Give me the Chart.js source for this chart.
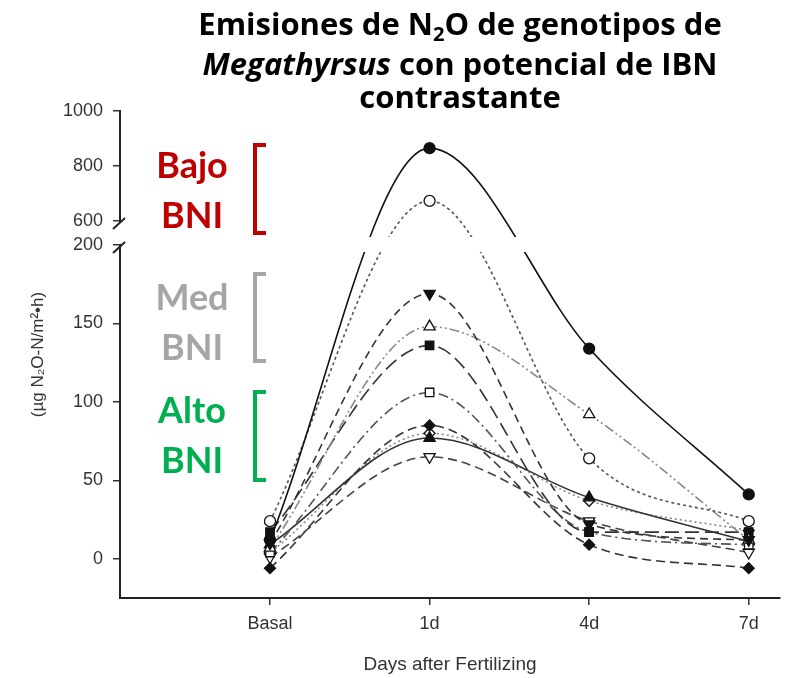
<!DOCTYPE html>
<html>
<head>
<meta charset="utf-8">
<script src="https://cdn.jsdelivr.net/npm/chart.js@4.4.1/dist/chart.umd.min.js"></script>
<style>
  body { margin: 0; background: #fff; }
  #wrap { position: relative; width: 794px; height: 678px; overflow: hidden; }
  canvas { position: absolute; left: 0; top: 0; }
  .title { position: absolute; left: 60px; width: 800px; text-align: center; white-space: nowrap;
           font: 700 31px 'Open Sans', sans-serif; line-height: 34px; color: #000; }
  .title sub { font-size: 0.65em; line-height: 0; vertical-align: -0.3em; }
  .tag { position: absolute; left: 132px; width: 120px; text-align: center;
         font: 700 36px Lato, sans-serif; line-height: 50px; }
  .bracket { position: absolute; left: 253px; width: 9px; border: 4px solid; border-right: none; }
</style>
</head>
<body>
<div id="wrap">
  <canvas id="chart" width="794" height="678"></canvas>

  <div class="title" style="top:6px">Emisiones de N<sub>2</sub>O de genotipos de</div>
  <div class="title" style="top:46px"><i>Megathyrsus</i> con potencial de IBN</div>
  <div class="title" style="top:79px">contrastante</div>

  <div class="tag" style="top:139px;color:#c00000">Bajo<br>BNI</div>
  <div class="bracket" style="top:143px;height:84px;border-color:#c00000"></div>
  <div class="tag" style="top:271px;color:#a6a6a6">Med<br>BNI</div>
  <div class="bracket" style="top:272px;height:83px;border-color:#a6a6a6"></div>
  <div class="tag" style="top:384px;color:#00b050">Alto<br>BNI</div>
  <div class="bracket" style="top:390px;height:84px;border-color:#00b050"></div>
</div>

<script>
const days = ['Basal', '1d', '4d', '7d'];
const yTickValues = [0, 50, 100, 150, 200, 600, 800, 1000];

// one value per sampling day, ug N2O-N/m2*h
const filledCircle   = [12, 865, 134, 41];
const openCircle     = [24, 673, 64, 24];
const filledDownTri  = [10, 169, 22, 12];
const openUpTri      = [7, 148, 92, 12];
const filledSquare   = [17, 136, 17, 17];
const openSquare     = [4, 106, 17, 9];
const filledDiamond  = [-6, 85, 9, -6];
const filledUpTri    = [9, 77, 39, 11];
const openDownTri    = [1, 65, 24, 4];
const openDiamond    = [4, 80, 37, 18];

const series = [
    { values: filledCircle,  shape: 'circle',   open: false, dash: [],                 color: '#111' },
    { values: openCircle,    shape: 'circle',   open: true,  dash: [3, 3],             color: '#555' },
    { values: filledDownTri, shape: 'triangle', open: false, dash: [8, 5],             color: '#333', rotate: 180 },
    { values: openUpTri,     shape: 'triangle', open: true,  dash: [10, 3, 2, 3, 2, 3], color: '#888' },
    { values: filledSquare,  shape: 'rect',     open: false, dash: [14, 6],            color: '#333' },
    { values: openSquare,    shape: 'rect',     open: true,  dash: [10, 4, 2, 4],      color: '#555' },
    { values: filledDiamond, shape: 'rectRot',  open: false, dash: [9, 5],             color: '#333' },
    { values: filledUpTri,   shape: 'triangle', open: false, dash: [],                 color: '#333' },
    { values: openDownTri,   shape: 'triangle', open: true,  dash: [9, 5],             color: '#444', rotate: 180 },
    { values: openDiamond,   shape: 'rectRot',  open: true,  dash: [2, 3],             color: '#888' }
];

// y axis is broken between 200 and 600; the upper part is compressed
const breakLow = 200, breakHigh = 600;
const gapUnits = 15.3, highFactor = 0.1753;

class BrokenLinearScale extends Chart.LinearScale {
    toUnits(v) {
        if (v <= breakLow) return v;
        if (v >= breakHigh) return breakLow + gapUnits + (v - breakHigh) * highFactor;
        return breakLow + (v - breakLow) / (breakHigh - breakLow) * gapUnits;
    }
    getPixelForValue(value) {
        if (value === null || isNaN(value)) return NaN;
        const a = this.toUnits(this.min), b = this.toUnits(this.max);
        return this.getPixelForDecimal((this.toUnits(value) - a) / (b - a));
    }
    getValueForPixel(pixel) {
        const a = this.toUnits(this.min), b = this.toUnits(this.max);
        const u = a + this.getDecimalForPixel(pixel) * (b - a);
        if (u <= breakLow) return u;
        if (u >= breakLow + gapUnits) return breakHigh + (u - breakLow - gapUnits) / highFactor;
        return breakLow + (u - breakLow) / gapUnits * (breakHigh - breakLow);
    }
}
BrokenLinearScale.id = 'brokenLinear';
BrokenLinearScale.defaults = Chart.LinearScale.defaults;
Chart.register(BrokenLinearScale);

// white gap over the lines and the axis, plus the "/" marks
const axisBreak = {
    id: 'axisBreak',
    afterDraw(chart) {
        const { ctx, chartArea, scales: { y } } = chart;
        const x0 = chartArea.left;
        const yHigh = y.getPixelForValue(breakHigh);
        const yLow = y.getPixelForValue(breakLow);
        ctx.save();
        ctx.fillStyle = '#fff';
        ctx.fillRect(x0 - 2, yHigh + 2, 4, yLow - yHigh - 3);
        ctx.fillRect(x0 + 2, yLow - 8, chartArea.right - x0, 15);
        ctx.strokeStyle = '#222';
        ctx.lineWidth = 2;
        ctx.beginPath();
        [yHigh, yLow].forEach(p => {
            ctx.moveTo(x0 - 7, p + 8);
            ctx.lineTo(x0 + 5, p - 3);
        });
        ctx.stroke();
        ctx.restore();
    }
};

const tickFont = { family: "'Liberation Sans', Arial, sans-serif", size: 18 };
const inkColor = '#333';

new Chart(document.getElementById('chart'), {
    type: 'line',
    data: {
        datasets: series.map(s => ({
            data: s.values.map((v, i) => ({ x: i, y: v })),
            borderColor: s.color,
            borderWidth: 1.6,
            borderDash: s.dash,
            cubicInterpolationMode: 'monotone',
            pointStyle: s.shape,
            pointRotation: s.rotate || 0,
            pointRadius: s.shape === 'triangle' ? 6.5 : s.shape === 'rect' ? 6 : 5.5,
            pointBackgroundColor: s.open ? '#fff' : '#111',
            pointBorderColor: '#111',
            pointBorderWidth: 1.3
        }))
    },
    options: {
        responsive: false,
        animation: false,
        layout: { padding: { top: 111, right: 14, bottom: 0, left: 0 } },
        plugins: {
            legend: { display: false },
            tooltip: { enabled: false }
        },
        scales: {
            x: {
                type: 'linear', min: -0.94, max: 3.196,
                afterBuildTicks: s => { s.ticks = days.map((d, i) => ({ value: i })); },
                afterFit: s => { s.height = 80; },
                ticks: { callback: v => days[v], font: tickFont, color: inkColor, padding: 8 },
                grid: { drawOnChartArea: false, tickLength: 7, color: '#333', lineWidth: 1.5 },
                border: { color: '#222', width: 2 },
                title: {
                    display: true, text: 'Days after Fertilizing', color: inkColor,
                    font: { family: tickFont.family, size: 19 }, padding: { top: 0, bottom: 2 }
                }
            },
            y: {
                type: 'brokenLinear', min: -25, max: 1000,
                afterBuildTicks: s => { s.ticks = yTickValues.map(v => ({ value: v })); },
                afterFit: s => { s.width = 120; },
                ticks: { callback: v => String(v), font: tickFont, color: inkColor, padding: 10 },
                grid: { drawOnChartArea: false, tickLength: 7, color: '#333', lineWidth: 1.5 },
                border: { color: '#222', width: 2 },
                title: {
                    display: true, text: '(µg N₂O-N/m²•h)', color: inkColor,
                    font: { family: tickFont.family, size: 17 }, padding: { top: 28 }
                }
            }
        }
    },
    plugins: [axisBreak]
});
</script>
</body>
</html>
